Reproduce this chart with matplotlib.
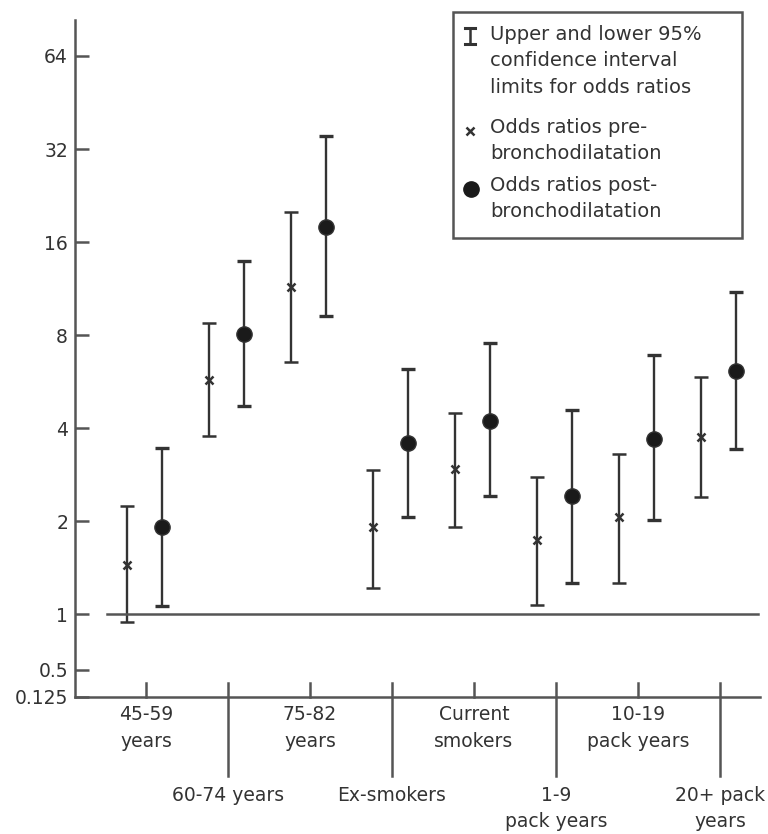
import matplotlib.pyplot as plt
import numpy as np

# odds ratios with 95% CI
groups = ["45-59\nyears", "60-74 years", "75-82\nyears", "Ex-smokers",
          "Current\nsmokers", "1-9\npack years", "10-19\npack years", "20+ pack\nyears"]
pre_or = [1.44, 5.72, 11.4, 1.91, 2.95, 1.74, 2.06, 3.74]
pre_lo = [0.91, 3.77, 6.54, 1.21, 1.91, 1.07, 1.26, 2.39]
pre_hi = [2.24, 8.75, 20.0, 2.93, 4.47, 2.78, 3.29, 5.85]
post_or = [1.91, 8.06, 17.9, 3.58, 4.21, 2.41, 3.69, 6.12]
post_lo = [1.06, 4.71, 9.2, 2.06, 2.41, 1.26, 2.02, 3.42]
post_hi = [3.45, 13.9, 35.3, 6.21, 7.54, 4.57, 6.89, 11.0]
yticks = [0.125, 0.5, 1, 2, 4, 8, 16, 32, 64]
ylabels = ["0.125", "0.5", "1", "2", "4", "8", "16", "32", "64"]

# broken log2 axis: full log2 above 1, squeezed below
def fwd(v):
    v = np.asarray(v, dtype=float)
    v = np.clip(v, 1e-3, None)
    l = np.log2(v)
    return np.where(l >= 0, l, np.where(l >= -1, 0.6 * l, -0.6 + 0.145 * (l + 1)))

def inv(y):
    y = np.asarray(y, dtype=float)
    l = np.where(y >= 0, y, np.where(y >= -0.6, y / 0.6, (y + 0.6) / 0.145 - 1))
    return 2.0 ** l

ink = "#333333"
axcol = "#555555"
fs = 13.5
plt.rcParams['font.family'] = ['DejaVu Sans']

fig = plt.figure(figsize=(7.68, 8.34), dpi=100)
ax = fig.add_axes([75 / 768, 137 / 834, 685 / 768, 677 / 834])
ax.set_yscale('function', functions=(fwd, inv))
ax.set_ylim(inv(-0.892), inv(6.387))
ax.set_xlim(-0.866, 7.488)

x = np.arange(len(groups))
pre_err = [np.array(pre_or) - np.array(pre_lo), np.array(pre_hi) - np.array(pre_or)]
post_err = [np.array(post_or) - np.array(post_lo), np.array(post_hi) - np.array(post_or)]
ax.errorbar(x - 0.23, pre_or, yerr=pre_err, fmt='x', color=ink, ms=5.5, mew=1.8,
            elinewidth=1.7, capsize=5, capthick=2.4)
ax.errorbar(x + 0.2, post_or, yerr=post_err, fmt='o', color=ink, mfc='#1a1a1a', ms=11,
            elinewidth=1.7, capsize=5, capthick=2.4)

ax.axhline(1, xmin=32 / 685, xmax=683 / 685, color=axcol, lw=1.8)

for s in ['top', 'right']:
    ax.spines[s].set_visible(False)
for s in ['left', 'bottom']:
    ax.spines[s].set_linewidth(1.8)
    ax.spines[s].set_color(axcol)

ax.set_yticks(yticks)
ax.set_yticklabels(ylabels)
ax.yaxis.set_minor_locator(plt.NullLocator())
ax.tick_params(axis='y', direction='in', length=10, width=1.8, color=axcol,
               labelsize=fs, labelcolor=ink, pad=5)

ax.set_xticks(x)
ax.set_xticklabels([])
ax.tick_params(axis='x', length=0)
xtr = ax.get_xaxis_transform()
for i, g in enumerate(groups):
    if i % 2 == 0:
        ax.plot([i, i], [0, 14 / 677], color=axcol, lw=1.8, clip_on=False, transform=xtr)
        ax.annotate(g, (i, 0), xycoords=xtr, xytext=(0, -6),
                    textcoords='offset points', ha='center', va='top', fontsize=fs,
                    color=ink, linespacing=1.5)
    else:
        ax.plot([i, i], [14 / 677, -79 / 677], color=axcol, lw=1.8, clip_on=False,
                transform=xtr)
        ax.annotate(g, (i, 0), xycoords=xtr, xytext=(0, -64),
                    textcoords='offset points', ha='center', va='top', fontsize=fs,
                    color=ink, linespacing=1.5)

# legend drawn by hand
ft = fig.transFigure
fig.patches.append(plt.Rectangle((453 / 768, 1 - 238 / 834), 289 / 768, 226 / 834,
                                 transform=ft, fill=False, ec=axcol, lw=1.8))
fig.text(490 / 768, 1 - 25 / 834, "Upper and lower 95%\nconfidence interval\nlimits for odds ratios",
         ha='left', va='top', fontsize=14, color=ink, linespacing=1.5)
# small I-beam for the CI symbol
fig.lines.append(plt.Line2D([470 / 768, 470 / 768], [1 - 28 / 834, 1 - 44 / 834],
                            color=ink, lw=1.8, transform=ft))
for yy in [28, 44]:
    fig.lines.append(plt.Line2D([465 / 768, 475 / 768], [1 - yy / 834, 1 - yy / 834],
                                color=ink, lw=2.2, transform=ft))
fig.text(490 / 768, 1 - 118 / 834, "Odds ratios pre-\nbronchodilatation",
         ha='left', va='top', fontsize=14, color=ink, linespacing=1.45)
fig.text(490 / 768, 1 - 176 / 834, "Odds ratios post-\nbronchodilatation",
         ha='left', va='top', fontsize=14, color=ink, linespacing=1.45)
fig.lines.append(plt.Line2D([470 / 768], [1 - 131 / 834], marker='x', ms=5.5, mew=1.8,
                            color=ink, transform=ft))
fig.lines.append(plt.Line2D([471 / 768], [1 - 189 / 834], marker='o', ms=11,
                            color='#1a1a1a', transform=ft))

fig.savefig('out.png', dpi=100)
